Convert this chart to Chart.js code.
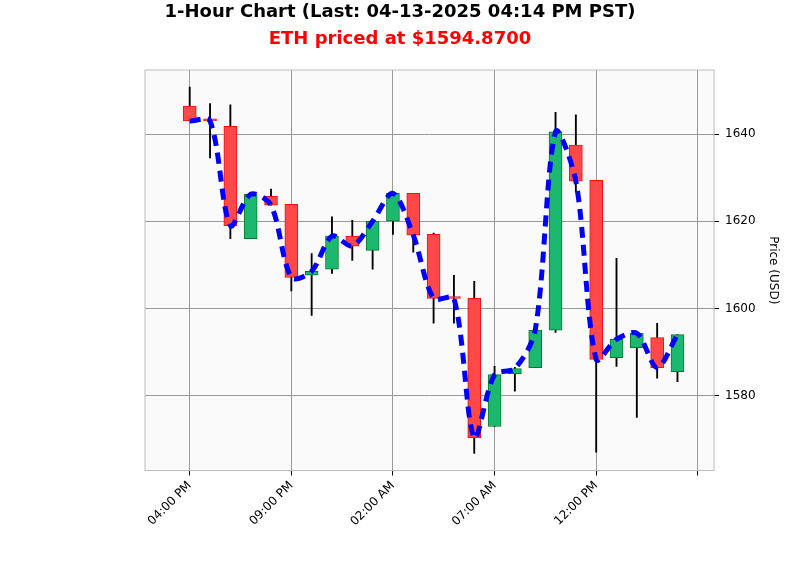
<!DOCTYPE html>
<html><head><meta charset="utf-8">
<script src="https://cdn.jsdelivr.net/npm/chart.js@4"></script>
<style>html,body{margin:0;padding:0;background:#fff}#w{width:800px;height:575px}</style>
</head><body><div id="w"><canvas id="c"></canvas></div>
<script>
const labels = ["04:00 PM","05:00 PM","06:00 PM","07:00 PM","08:00 PM","09:00 PM","10:00 PM","11:00 PM","12:00 AM","01:00 AM","02:00 AM","03:00 AM","04:00 AM","05:00 AM","06:00 AM","07:00 AM","08:00 AM","09:00 AM","10:00 AM","11:00 AM","12:00 PM","01:00 PM","02:00 PM","03:00 PM","04:00 PM"];
const opens  = [1646.4,1643.2,1641.8,1616.0,1625.7,1623.9,1607.6,1609.0,1616.6,1613.3,1620.0,1626.4,1617.0,1602.7,1602.3,1572.9,1585.0,1586.4,1595.0,1637.5,1629.4,1588.7,1591.0,1593.3,1585.5];
const closes = [1643.0,1643.0,1619.0,1626.2,1623.7,1607.1,1608.5,1616.6,1614.3,1620.0,1626.4,1616.8,1602.3,1602.3,1570.3,1584.8,1586.2,1595.0,1640.5,1629.2,1588.3,1592.9,1594.3,1586.4,1594.0];
const highs  = [1650.8,1647.0,1646.7,1626.5,1627.4,1623.9,1612.6,1621.0,1620.2,1620.0,1626.5,1626.4,1617.3,1607.6,1606.2,1586.7,1586.5,1595.0,1645.0,1644.4,1629.4,1611.5,1594.5,1596.6,1594.0];
const lows   = [1643.0,1634.5,1616.0,1616.0,1623.7,1604.0,1598.4,1608.0,1611.0,1609.0,1617.0,1612.9,1596.6,1596.6,1566.7,1572.9,1581.0,1586.4,1594.5,1626.7,1567.0,1586.7,1575.0,1584.0,1583.2];
const yTicks = [1580,1600,1620,1640];
const titleText = "1-Hour Chart (Last: 04-13-2025 04:14 PM PST)";
const subText = "ETH priced at $1594.8700";

const up = closes.map((c,i)=>c>=opens[i]);
const bodies = opens.map((o,i)=>({x:i,y:[Math.min(o,closes[i]),Math.max(o,closes[i])+ (Math.abs(o-closes[i])<0.3?0.3:0)]}));
const wicks = opens.map((o,i)=>({x:i,y:[lows[i],highs[i]]}));
const line = closes.map((c,i)=>({x:i,y:c}));

const titles = {id:'titles',afterDraw(ch){const x=ch.ctx;x.save();x.textAlign='center';x.textBaseline='middle';
 x.font='bold 18px "DejaVu Sans"';x.fillStyle='#000';x.fillText(titleText,400,12);
 x.fillStyle='#f00';x.fillText(subText,400,39);x.restore();}};
const bg = {id:'bg',beforeDraw(ch){const a=ch.chartArea,x=ch.ctx;x.save();x.fillStyle='#fafafa';x.fillRect(a.left,a.top,a.right-a.left,a.bottom-a.top);x.restore();},
 afterDatasetsDraw(ch){const a=ch.chartArea,x=ch.ctx;x.save();x.strokeStyle='#bbb';x.lineWidth=1;x.strokeRect(a.left,a.top,a.right-a.left,a.bottom-a.top);x.restore();}};

new Chart(document.getElementById('c'),{
 data:{datasets:[
  {type:'bar',data:wicks,backgroundColor:'#000',barThickness:1.2,grouped:false,order:3},
  {type:'bar',data:bodies,backgroundColor:up.map(u=>u?'#1db870':'#ff4848'),borderColor:up.map(u=>u?'#0a7a2a':'#f01010'),borderWidth:1,borderSkipped:false,barThickness:13,grouped:false,order:2},
  {type:'line',data:line,borderColor:'#0000ff',borderWidth:5,borderDash:[11,7],pointRadius:0,tension:0.3,fill:false,order:1}
 ]},
 plugins:[titles,bg],
 options:{responsive:true,maintainAspectRatio:false,animation:false,
  layout:{padding:{top:70,left:145,right:16,bottom:43}},
  plugins:{legend:{display:false},tooltip:{enabled:false}},
  scales:{
   x:{type:'linear',min:-2.2,max:25.8,offset:false,
    afterBuildTicks(ax){ax.ticks=[0,5,10,15,20,25].map(v=>({value:v}));},
    ticks:{autoSkip:false,maxRotation:45,minRotation:45,color:'#000',font:{family:'DejaVu Sans',size:12},
     callback:v=>v<labels.length?labels[v]:''},
    grid:{offset:false,color:'#999',lineWidth:1,tickLength:5,tickColor:'#000'},border:{display:false}},
   y:{position:'right',min:1562.8,max:1654.7,
    afterBuildTicks(ax){ax.ticks=yTicks.map(v=>({value:v}));},
    ticks:{color:'#000',font:{family:'DejaVu Sans',size:12},padding:6,callback:v=>String(v)},
    grid:{color:'#999',lineWidth:1,tickLength:5,tickColor:'#000'},border:{display:false},
    title:{display:true,text:'Price (USD)',color:'#000',font:{family:'DejaVu Sans',size:12}}}
  }}
});
</script></body></html>
